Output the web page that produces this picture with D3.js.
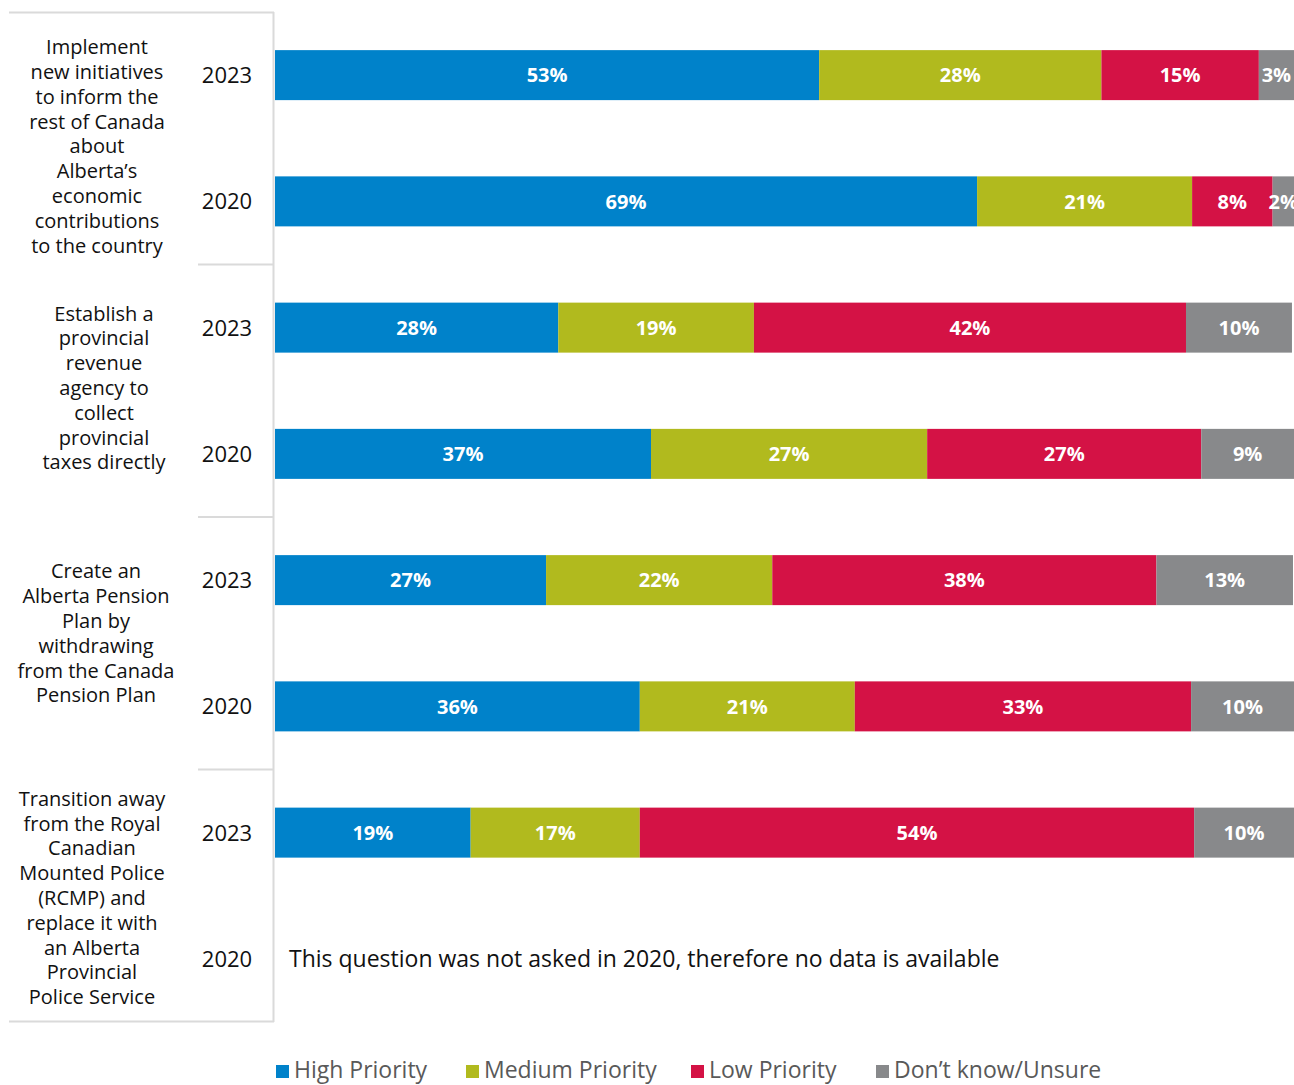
<!DOCTYPE html>
<html>
<head>
<meta charset="utf-8">
<script src="https://cdn.jsdelivr.net/npm/d3@7"></script>
<style>
  body { margin: 0; background: #fff; }
  text { font-family: "Open Sans", sans-serif; }
</style>
</head>
<body>
<div id="graph"></div>
<script>
// category labels, already broken in lines as in the source chart
const categories = [
  ["Implement", "new initiatives", "to inform the", "rest of Canada", "about", "Alberta’s", "economic", "contributions", "to the country"],
  ["Establish a", "provincial", "revenue", "agency to", "collect", "provincial", "taxes directly"],
  ["Create an", "Alberta Pension", "Plan by", "withdrawing", "from the Canada", "Pension Plan"],
  ["Transition away", "from the Royal", "Canadian", "Mounted Police", "(RCMP) and", "replace it with", "an Alberta", "Provincial", "Police Service"]
];
const years = ["2023", "2020"];
const seriesNames = ["High Priority", "Medium Priority", "Low Priority", "Don’t know/Unsure"];

// one value per row (category x year), null = not asked
const high   = [53.4, 68.9, 27.8, 36.9, 26.6, 35.8, 19.2, null];
const medium = [27.7, 21.1, 19.2, 27.1, 22.2, 21.1, 16.6, null];
const low    = [15.45, 7.9, 42.4, 26.9, 37.7, 33.0, 54.4, null];
const unsure = [3.45, 2.1, 10.4, 9.1, 13.4, 10.1, 9.8, null];

const noDataNote = "This question was not asked in 2020, therefore no data is available";
const colors = ["#0082ca", "#b1ba1e", "#d41245", "#88898b"];

const width = 1294, height = 1085;
const keys = ["high", "medium", "low", "unsure"];

const rows = [];
categories.forEach((c, ci) => {
  years.forEach((y, yi) => {
    const i = ci * 2 + yi;
    rows.push({ id: i, cat: ci, year: y, high: high[i], medium: medium[i], low: low[i], unsure: unsure[i] });
  });
});

const svg = d3.select("#graph").append("svg")
  .attr("width", width)
  .attr("height", height);

const x = d3.scaleLinear().domain([0, 100]).range([275, 1294]);
const p = 1 - 50 / 126.25;
const y = d3.scaleBand()
  .domain(rows.map(d => d.id))
  .range([12, 1022])
  .paddingInner(p)
  .paddingOuter(p / 2);
const step = y.step();
const color = d3.scaleOrdinal().domain(keys).range(colors);

// frame of the label table
const frame = svg.append("g")
  .attr("stroke", "#dadada")
  .attr("stroke-width", 2);
frame.append("line").attr("x1", 9).attr("x2", 274).attr("y1", 12.5).attr("y2", 12.5);
frame.append("line").attr("x1", 9).attr("x2", 274).attr("y1", 1021.5).attr("y2", 1021.5);
frame.append("line").attr("x1", 273.5).attr("x2", 273.5).attr("y1", 12).attr("y2", 1022);
frame.selectAll(".sep")
  .data(d3.range(1, categories.length))
  .join("line")
  .attr("x1", 198).attr("x2", 274)
  .attr("y1", d => y(d * 2) - (step - y.bandwidth()) / 2)
  .attr("y2", d => y(d * 2) - (step - y.bandwidth()) / 2);

// stacked bars
const stacked = d3.stack().keys(keys)(rows.filter(d => d.high != null));

const layer = svg.append("g").selectAll("g")
  .data(stacked)
  .join("g")
  .attr("fill", d => color(d.key));

layer.selectAll("rect")
  .data(d => d)
  .join("rect")
  .attr("x", d => x(d[0]))
  .attr("y", d => y(d.data.id))
  .attr("width", d => x(d[1]) - x(d[0]))
  .attr("height", y.bandwidth());

layer.selectAll("text")
  .data(d => d)
  .join("text")
  .attr("x", d => (x(d[0]) + x(d[1])) / 2)
  .attr("y", d => y(d.data.id) + y.bandwidth() / 2)
  .attr("dy", "0.36em")
  .attr("text-anchor", "middle")
  .attr("fill", "#fff")
  .attr("font-weight", "bold")
  .attr("font-size", 20)
  .text(d => Math.round(d[1] - d[0]) + "%");

// year labels
svg.append("g").selectAll("text")
  .data(rows)
  .join("text")
  .attr("x", 227)
  .attr("y", d => y(d.id) + y.bandwidth() / 2)
  .attr("dy", "0.36em")
  .attr("text-anchor", "middle")
  .attr("font-size", 22)
  .attr("fill", "#111")
  .text(d => d.year);

// no data note
rows.filter(d => d.high == null).forEach(d => {
  svg.append("text")
    .attr("x", 289)
    .attr("y", y(d.id) + y.bandwidth() / 2)
    .attr("dy", "0.36em")
    .attr("font-size", 23)
    .attr("fill", "#111")
    .text(noDataNote);
});

// category labels
const labelX = [97, 104, 96, 92];
const labelShift = [8, -3, -10, 2];
const lineH = 24.8;
svg.append("g").selectAll("text")
  .data(categories)
  .join("text")
  .attr("text-anchor", "middle")
  .attr("font-size", 20)
  .attr("fill", "#111")
  .each(function(lines, ci) {
    const cy = (y(ci * 2) + y(ci * 2 + 1) + y.bandwidth()) / 2 + labelShift[ci];
    const top = cy - (lines.length - 1) * lineH / 2;
    d3.select(this).selectAll("tspan")
      .data(lines)
      .join("tspan")
      .attr("x", labelX[ci])
      .attr("y", (l, i) => top + i * lineH)
      .attr("dy", "0.36em")
      .text(l => l);
  });

// legend
const legendX = [276, 466, 691, 876];
const legend = svg.append("g").selectAll("g")
  .data(seriesNames)
  .join("g")
  .attr("transform", (d, i) => `translate(${legendX[i]},1070)`);
legend.append("rect")
  .attr("y", -5)
  .attr("width", 13)
  .attr("height", 13)
  .attr("fill", (d, i) => colors[i]);
legend.append("text")
  .attr("x", 18)
  .attr("dy", "0.36em")
  .attr("font-size", 23)
  .attr("fill", "#595959")
  .text(d => d);
</script>
</body>
</html>
